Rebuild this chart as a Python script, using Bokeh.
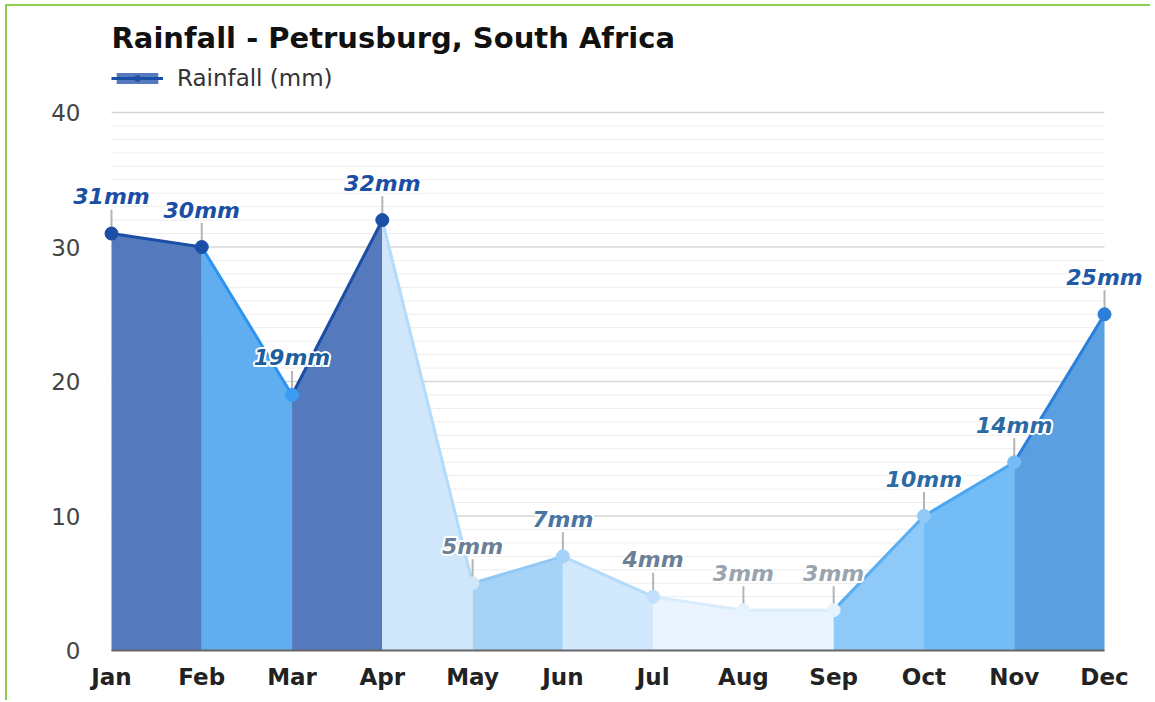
from bokeh.plotting import figure
from bokeh.models import (ColumnDataSource, FixedTicker, Legend, LegendItem, Range1d)
from bokeh.core.properties import value
from bokeh.embed import file_html
from bokeh.resources import INLINE

# ---------------- data ----------------
months = ["Jan", "Feb", "Mar", "Apr", "May", "Jun",
          "Jul", "Aug", "Sep", "Oct", "Nov", "Dec"]
rainfall = [31, 30, 19, 32, 5, 7, 4, 3, 3, 10, 14, 25]
y_ticks = [0, 10, 20, 30, 40]
chart_title = "Rainfall - Petrusburg, South Africa"
series_name = "Rainfall (mm)"

# ---------------- styles ----------------
seg_fill = ["#5479bd", "#60aef0", "#5479bd", "#cfe6fb", "#a6d2f8", "#d2e8fc",
            "#e9f4fe", "#e9f4fe", "#8fc9f7", "#74bcf6", "#5a9fe0"]
seg_line = ["#1b4ea5", "#2e93f0", "#1b4ea5", "#b5dbfa", "#92c8f6", "#b5dbfa",
            "#d9ecfc", "#d9ecfc", "#5aaef2", "#4aa6f0", "#2a7fd8"]
pt_color = ["#1b4ea5", "#1b4ea5", "#3a9cf2", "#1b4ea5", "#cfe6fb", "#a6d2f8",
            "#c2e0fa", "#e6f2fd", "#e6f2fd", "#90c8f6", "#74bcf6", "#2a7fd8"]
lbl_color = ["#1b4ea5", "#1b4ea5", "#1d5e9c", "#1b4ea5", "#6b7f96", "#4b76a3",
             "#6b7f96", "#9aa4ae", "#9aa4ae", "#2c6aa3", "#2c6aa3", "#1f5aa6"]
FONT = "DejaVu Sans"
GREEN = "#8ccf50"

W, H = 1150, 700
PX_Y = 13.45          # pixels per mm on the y axis
TOP = 59              # frame top (canvas px)
ZERO = 650            # canvas y of the 0 mm baseline
BOTTOM = 664          # frame bottom (canvas px), a little below the baseline
PX_X = 993 / 11.0
X0 = -111 / PX_X

p = figure(width=W, height=H, output_backend="svg", toolbar_location=None,
           x_range=Range1d(X0, X0 + W / PX_X),
           y_range=Range1d(-(BOTTOM - ZERO) / PX_Y, (ZERO - TOP) / PX_Y),
           y_axis_location=None,
           min_border_left=0, min_border_right=0,
           min_border_top=TOP, min_border_bottom=H - BOTTOM)
p.outline_line_color = None
p.xgrid.visible = False
p.ygrid.visible = False
p.background_fill_color = None
p.border_fill_color = None
# green widget frame (top and left edges), painted behind the transparent canvas
p.styles = {
    "background": (f"linear-gradient({GREEN},{GREEN}) 5px 4px / 2px 100% no-repeat, "
                   f"linear-gradient({GREEN},{GREEN}) 5px 4px / 100% 2px no-repeat, white"),
}

# title
p.title.text = chart_title
p.title.text_font = FONT
p.title.text_font_size = "29px"
p.title.text_font_style = "bold"
p.title.text_color = "#111111"
p.title.align = "left"
p.title.offset = 111

# grid lines
n = len(months) - 1
minor = [v for v in range(1, 41) if v % 10 != 0]
major = [v for v in y_ticks if v > 0]
p.segment(x0=[0] * len(minor), x1=[n] * len(minor), y0=minor, y1=minor,
          line_color="#ededed", line_width=1)
p.segment(x0=[0] * len(major), x1=[n] * len(major), y0=major, y1=major,
          line_color="#d6d6d6", line_width=1.5)

# y tick labels
p.text(x=[X0 + 80 / PX_X] * len(y_ticks), y=y_ticks, text=[str(t) for t in y_ticks],
       text_align="right", text_baseline="middle", text_font=value(FONT),
       text_font_size="23px", text_color="#444444")

# area segments
idx = list(range(len(months)))
xs = [[i, i, i + 1, i + 1] for i in range(n)]
ys = [[0, rainfall[i], rainfall[i + 1], 0] for i in range(n)]
p.patches(xs=xs, ys=ys, fill_color=seg_fill, line_color=None)

# baseline (x axis line at 0)
p.segment(x0=[0], x1=[n], y0=[0], y1=[0], line_color="#666666", line_width=2)

# line segments
lxs = [[i, i + 1] for i in range(n)]
lys = [[rainfall[i], rainfall[i + 1]] for i in range(n)]
p.multi_line(xs=lxs, ys=lys, line_color=seg_line, line_width=3)

# label connector ticks
p.segment(x0=idx, x1=idx, y0=[v + 3 / PX_Y for v in rainfall],
          y1=[v + 24 / PX_Y for v in rainfall], line_color="#b4b4b4", line_width=2)

# markers
p.scatter(x=idx, y=rainfall, size=13, fill_color=pt_color, line_color=pt_color)

# data labels with white halo
labels = [f"{v}mm" for v in rainfall]
src = ColumnDataSource(dict(x=idx, y=rainfall, t=labels, c=lbl_color))
LY = -37
for dx, dy in [(-2, 0), (2, 0), (0, -2), (0, 2), (-1.5, -1.5), (1.5, -1.5),
               (-1.5, 1.5), (1.5, 1.5)]:
    p.text(x="x", y="y", text="t", source=src, x_offset=dx, y_offset=LY + dy,
           text_align="center", text_baseline="alphabetic", text_font=value(FONT),
           text_font_size="22px", text_font_style="bold italic", text_color="white")
p.text(x="x", y="y", text="t", source=src, y_offset=LY,
       text_align="center", text_baseline="alphabetic", text_font=value(FONT),
       text_font_size="22px", text_font_style="bold italic", text_color="c")

# x axis (labels only; its line is the baseline drawn above)
ax = p.xaxis[0]
ax.ticker = FixedTicker(ticks=idx)
ax.major_label_overrides = {i: m for i, m in enumerate(months)}
ax.axis_line_color = None
ax.major_tick_line_color = None
ax.minor_tick_line_color = None
ax.major_tick_in = 0
ax.major_tick_out = 0
ax.major_label_standoff = -1
ax.major_label_text_font = FONT
ax.major_label_text_font_size = "23px"
ax.major_label_text_font_style = "bold"
ax.major_label_text_color = "#222222"

# legend (swatch renderers sit far outside the visible range)
off = X0 - 100
r_area = p.varea(x=[off, off + 1], y1=[0, 0], y2=[1, 1], fill_color="#5479bd")
r_line = p.line(x=[off, off + 1], y=[1, 1], line_color="#1b4ea5", line_width=3)
r_pt = p.scatter(x=[off], y=[1], size=12, fill_color="#1b4ea5", line_color="#1b4ea5")
legend = Legend(items=[LegendItem(label=series_name, renderers=[r_area, r_line, r_pt])],
                location=(111, 559 + (BOTTOM - ZERO)), glyph_width=52, glyph_height=14,
                label_text_font=FONT, label_text_font_size="23px",
                label_text_color="#333333", label_standoff=14,
                border_line_color=None, background_fill_alpha=0,
                padding=0, margin=0)
p.add_layout(legend)

open("out.html", "w").write(file_html(p, INLINE))
